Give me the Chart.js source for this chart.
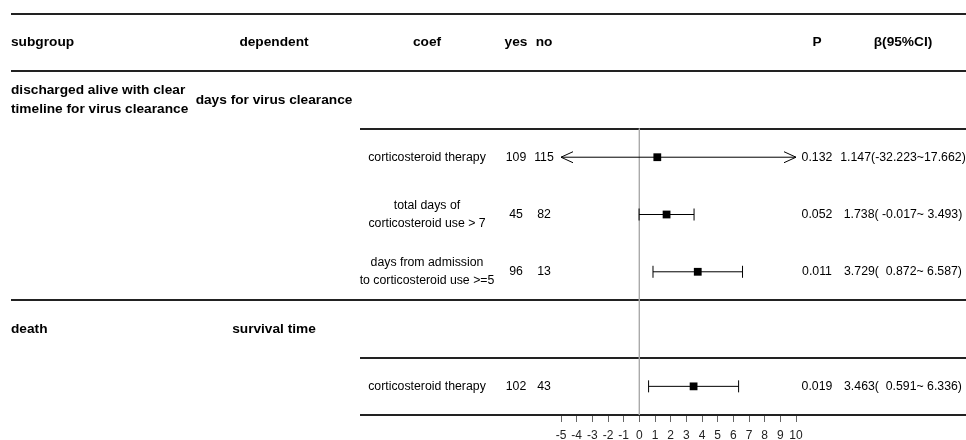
<!DOCTYPE html>
<html><head><meta charset="utf-8">
<script src="https://cdn.jsdelivr.net/npm/chart.js@4/dist/chart.umd.min.js"></script>
<style>html,body{margin:0;padding:0;background:#fff;}canvas{display:block;}</style>
</head><body>
<canvas id="c" width="966" height="440"></canvas>
<script>
// ---- data ----
const headers = ["subgroup", "dependent", "coef", "yes", "no", "P", "β(95%CI)"];
const subgroups = ["discharged alive with clear\ntimeline for virus clearance", "death"];
const dependents = ["days for virus clearance", "survival time"];
const groupRows = [1, 5];
const coefLabels = ["corticosteroid therapy", "total days of\ncorticosteroid use > 7", "days from admission\nto corticosteroid use >=5", "corticosteroid therapy"];
const coefRows = [2, 3, 4, 6];
const yesCounts = [109, 45, 96, 102];
const noCounts = [115, 82, 13, 43];
const betas = [1.147, 1.738, 3.729, 3.463];
const lowers = [-32.223, -0.017, 0.872, 0.591];
const uppers = [17.662, 3.493, 6.587, 6.336];
const pValues = ["0.132", "0.052", "0.011", "0.019"];
const tickValues = [-5, -4, -3, -2, -1, 0, 1, 2, 3, 4, 5, 6, 7, 8, 9, 10];
const X_MIN = -5, X_MAX = 10, ROWS = 7;

const ciTexts = betas.map((b, i) =>
  b.toFixed(3) + "(" + lowers[i].toFixed(3).padStart(7) + "~" + uppers[i].toFixed(3).padStart(6) + ")");

// ---- layout (columns) ----
const FONT = "'Liberation Sans', Arial, sans-serif";
const col = { sub: 11, dep: 274, coef: 427, yes: 516, no: 544, p: 817, ci: 903 };

const datasets = [];
datasets.push({
  label: "beta",
  data: betas.map((b, i) => ({ x: b, y: coefRows[i] + 0.5 })),
  pointStyle: "rect", pointRadius: 5.5, backgroundColor: "#000", borderColor: "#000", borderWidth: 0,
  showLine: false
});
betas.forEach((b, i) => {
  datasets.push({
    label: "ci" + i,
    data: [{ x: lowers[i], y: coefRows[i] + 0.5 }, { x: uppers[i], y: coefRows[i] + 0.5 }],
    showLine: true, borderColor: "#000", borderWidth: 1,
    pointStyle: "line", pointRotation: 90,
    pointRadius: ctx => (ctx.raw && (ctx.raw.x < X_MIN || ctx.raw.x > X_MAX)) ? 0 : 6,
    pointBorderColor: "#000", pointBorderWidth: 1, pointBackgroundColor: "#000"
  });
});
datasets.push({
  label: "ref",
  data: [{ x: 0, y: coefRows[0] }, { x: 0, y: ROWS }],
  showLine: true, borderColor: "#aaa", borderWidth: 1, pointRadius: 0
});

function drawText(ctx, text, x, y, align, bold, size, lh) {
  ctx.font = (bold ? "bold " : "") + size + "px " + FONT;
  ctx.textAlign = align;
  ctx.textBaseline = "middle";
  ctx.fillStyle = "#000";
  const lines = text.split("\n");
  const off = (lines.length - 1) * lh / 2;
  lines.forEach((l, k) => ctx.fillText(l, x, y - off + k * lh));
}

const tablePlugin = {
  id: "table",
  beforeDatasetsDraw(chart) {
    const ctx = chart.ctx, ys = chart.scales.y;
    ctx.save();
    ctx.strokeStyle = "#222";
    ctx.lineWidth = 2;
    const lines = [[0, 11], [1, 11], [2, 360], [5, 11], [6, 360], [7, 360]];
    lines.forEach(([r, x0]) => {
      const y = Math.round(ys.getPixelForValue(r));
      ctx.beginPath(); ctx.moveTo(x0, y); ctx.lineTo(966, y); ctx.stroke();
    });
    ctx.restore();
  },
  afterDatasetsDraw(chart) {
    const ctx = chart.ctx, xs = chart.scales.x, ys = chart.scales.y;
    ctx.save();
    // arrows for clipped intervals
    ctx.strokeStyle = "#000"; ctx.lineWidth = 1;
    betas.forEach((b, i) => {
      const y = ys.getPixelForValue(coefRows[i] + 0.5);
      if (lowers[i] < X_MIN) {
        const t = xs.getPixelForValue(X_MIN);
        ctx.beginPath(); ctx.moveTo(t + 12, y - 5.5); ctx.lineTo(t, y); ctx.lineTo(t + 12, y + 5.5); ctx.stroke();
      }
      if (uppers[i] > X_MAX) {
        const t = xs.getPixelForValue(X_MAX);
        ctx.beginPath(); ctx.moveTo(t - 12, y - 5.5); ctx.lineTo(t, y); ctx.lineTo(t - 12, y + 5.5); ctx.stroke();
      }
    });
    // headers
    const hy = ys.getPixelForValue(0.5);
    const hx = [[col.sub, "left"], [col.dep, "center"], [col.coef, "center"], [col.yes, "center"], [col.no, "center"], [col.p, "center"], [col.ci, "center"]];
    headers.forEach((h, k) => drawText(ctx, h, hx[k][0], hy, hx[k][1], true, 13.7, 19));
    // groups
    subgroups.forEach((s, g) => {
      const y = ys.getPixelForValue(groupRows[g] + 0.5);
      drawText(ctx, s, col.sub, y, "left", true, 13.7, 19);
      drawText(ctx, dependents[g], col.dep, y, "center", true, 13.7, 19);
    });
    // rows
    coefLabels.forEach((c, i) => {
      const y = ys.getPixelForValue(coefRows[i] + 0.5);
      drawText(ctx, c, col.coef, y, "center", false, 12.3, 18.5);
      drawText(ctx, String(yesCounts[i]), col.yes, y, "center", false, 12.3, 18);
      drawText(ctx, String(noCounts[i]), col.no, y, "center", false, 12.3, 18);
      drawText(ctx, pValues[i], col.p, y, "center", false, 12.3, 18);
      drawText(ctx, ciTexts[i], col.ci, y, "center", false, 12.3, 18);
    });
    ctx.restore();
  }
};

new Chart(document.getElementById("c"), {
  type: "scatter",
  data: { datasets },
  options: {
    responsive: false, animation: false, devicePixelRatio: 1,
    layout: { padding: { left: 561, right: 170, top: 14, bottom: 0 } },
    plugins: { legend: { display: false }, tooltip: { enabled: false } },
    scales: {
      x: {
        type: "linear", min: X_MIN, max: X_MAX,
        afterBuildTicks: s => { s.ticks = tickValues.map(v => ({ value: v })); },
        afterFit: s => { s.height = 25; },
        grid: { drawOnChartArea: false, drawTicks: true, tickLength: 7, color: "#666", lineWidth: 1 },
        border: { display: false },
        ticks: { autoSkip: false, maxRotation: 0, padding: 6, color: "#222", font: { family: FONT, size: 12 } }
      },
      y: { type: "linear", min: 0, max: ROWS, reverse: true, display: false }
    }
  },
  plugins: [tablePlugin]
});
</script>
</body></html>
